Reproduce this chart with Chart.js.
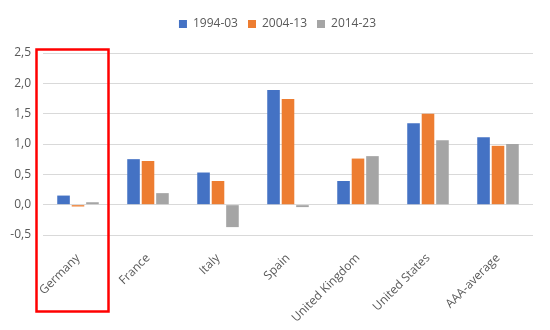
<!DOCTYPE html>
<html lang="en">
<head>
    <meta charset="UTF-8">
    <title>Chart</title>
    <style>
        body { margin: 0; padding: 0; background: #ffffff; }
        .wrap { width: 550px; height: 330px; position: relative; }
    </style>
</head>
<body>
    <div class="wrap"><canvas id="chart"></canvas></div>

    <script src="https://cdn.jsdelivr.net/npm/chart.js"></script>
    <script>
const categories = ['Germany', 'France', 'Italy', 'Spain', 'United Kingdom', 'United States', 'AAA-average'];
const seriesNames = ['1994-03', '2004-13', '2014-23'];
const values9403 = [0.15, 0.75, 0.53, 1.89, 0.39, 1.34, 1.11];
const values0413 = [-0.03, 0.72, 0.39, 1.74, 0.76, 1.50, 0.97];
const values1423 = [0.04, 0.19, -0.37, -0.04, 0.80, 1.06, 1.00];
const yTicks = [-0.5, 0, 0.5, 1.0, 1.5, 2.0, 2.5];

const colors = ['#4472c4', '#ed7d31', '#a5a5a5'];
const textColor = '#595959';
const fontFamily = '"Open Sans", "Noto Sans", sans-serif';

// red box around the Germany column
const highlightBox = {
    id: 'highlightBox',
    afterDraw(chart) {
        const x = chart.scales.x, y = chart.scales.y;
        const c = x.getPixelForValue(0);
        const half = (x.getPixelForValue(1) - c) / 2;
        const ctx = chart.ctx;
        ctx.save();
        ctx.strokeStyle = '#ff0000';
        ctx.lineWidth = 2.5;
        ctx.strokeRect(c - half - 6.5, y.getPixelForValue(yTicks[yTicks.length - 1]) - 3.5, 2 * half + 2, 262);
        ctx.restore();
    }
};

// extra room under the legend, legend a bit more to the right
const legendGap = {
    id: 'legendGap',
    beforeInit(chart) {
        const fit = chart.legend.fit;
        chart.legend.fit = function () {
            fit.bind(chart.legend)();
            this.height += 13;
        };
    },
    afterLayout(chart) {
        chart.legend.left += 22;
    }
};

new Chart(document.getElementById('chart'), {
    type: 'bar',
    data: {
        labels: categories,
        datasets: [
            { label: seriesNames[0], data: values9403, backgroundColor: colors[0] },
            { label: seriesNames[1], data: values0413, backgroundColor: colors[1] },
            { label: seriesNames[2], data: values1423, backgroundColor: colors[2] }
        ]
    },
    options: {
        responsive: true,
        maintainAspectRatio: false,
        animation: false,
        categoryPercentage: 0.62,
        barPercentage: 0.87,
        layout: { padding: { top: 8, right: 17, left: 0, bottom: 0 } },
        plugins: {
            legend: {
                position: 'top',
                labels: {
                    boxWidth: 8,
                    boxHeight: 8,
                    padding: 10,
                    color: textColor,
                    font: { family: fontFamily, size: 12 }
                }
            },
            tooltip: { enabled: false }
        },
        scales: {
            x: {
                grid: { display: false },
                border: { display: false },
                ticks: {
                    color: textColor,
                    font: { family: fontFamily, size: 12 },
                    minRotation: 45,
                    maxRotation: 45,
                    padding: 8
                },
                afterFit(scale) { scale.height = 95; }
            },
            y: {
                min: yTicks[0],
                max: yTicks[yTicks.length - 1],
                grid: { color: '#d9d9d9', lineWidth: 1, drawTicks: false },
                border: { display: false },
                ticks: {
                    stepSize: 0.5,
                    color: textColor,
                    font: { family: fontFamily, size: 12 },
                    padding: 12,
                    callback: v => v.toFixed(1).replace('.', ',')
                },
                afterFit(scale) { scale.width = 43; }
            }
        }
    },
    plugins: [highlightBox, legendGap]
});
    </script>
</body>
</html>
